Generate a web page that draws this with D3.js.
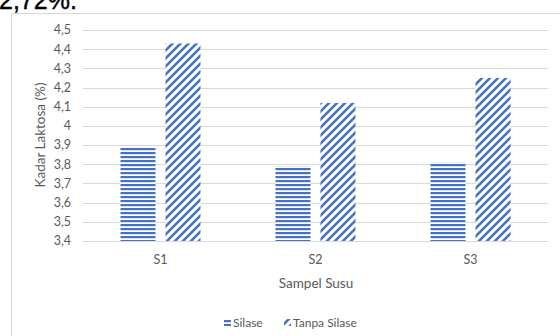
<!DOCTYPE html>
<html><head><meta charset="utf-8">
<script src="https://cdn.jsdelivr.net/npm/d3@7"></script>
<style>
html,body{margin:0;padding:0;background:#fff;overflow:hidden}
svg{display:block}
text{font-family:Lato,"Open Sans",sans-serif}
</style></head>
<body>
<svg id="c" width="560" height="336"></svg>
<script>
const categories = ["S1","S2","S3"];
const seriesNames = ["Silase","Tanpa Silase"];
const silase = [3.89, 3.79, 3.81];
const tanpaSilase = [4.43, 4.12, 4.25];
const yTicks = [3.4,3.5,3.6,3.7,3.8,3.9,4.0,4.1,4.2,4.3,4.4,4.5];
const headingText = "2,72%.";

const svg = d3.select("#c");
const blue = "#4472C4";
const defs = svg.append("defs");
const ph = defs.append("pattern").attr("id","pH").attr("patternUnits","userSpaceOnUse")
  .attr("width",4).attr("height",4);
ph.append("rect").attr("width",4).attr("height",4).attr("fill","#fff");
ph.append("rect").attr("y",0).attr("width",4).attr("height",2.2).attr("fill",blue);
const pd = defs.append("pattern").attr("id","pD").attr("patternUnits","userSpaceOnUse")
  .attr("width",8).attr("height",8);
pd.append("rect").attr("width",8).attr("height",8).attr("fill","#fff");
pd.append("path").attr("d","M-2,2L2,-2M0,8L8,0M6,10L10,6").attr("stroke",blue).attr("stroke-width",2.6);

// heading text (cropped at top, as in the reference)
svg.append("text").attr("x",-1).attr("y",9).attr("font-size",25)
  .attr("fill","#000").style("font-family","Liberation Sans, Arial, sans-serif")
  .style("font-weight","normal").style("stroke","#000").style("stroke-width",0.4).text(headingText);

// chart border
svg.append("rect").attr("x",11.5).attr("y",13.5).attr("width",560).attr("height",340)
  .attr("fill","#fff").attr("stroke","#d9d9d9");

const x0 = d3.scaleBand().domain(categories).range([83,548]);
const y = d3.scaleLinear().domain([3.4,4.5]).range([241,30]);

// gridlines
svg.append("g").selectAll("line").data(yTicks).join("line")
  .attr("x1",83).attr("x2",548).attr("y1",d=>Math.round(y(d))+0.5).attr("y2",d=>Math.round(y(d))+0.5)
  .attr("stroke","#d9d9d9").attr("stroke-width",1);

// y tick labels
const fmt = d => d3.format(".1f")(d).replace(".0","").replace(".",",");
svg.append("g").selectAll("text").data(yTicks).join("text")
  .attr("x",71).attr("y",d=>y(d)).attr("dy","0.35em").attr("text-anchor","end")
  .attr("font-size",12.5).attr("fill","#595959").text(fmt);

// bars
const bw = 35, gap = 10;
const seriesData = [silase, tanpaSilase];
const fills = ["url(#pH)","url(#pD)"];
seriesData.forEach((vals,si)=>{
  svg.append("g").selectAll("rect").data(categories).join("rect")
    .attr("x",(c)=>x0(c)+x0.bandwidth()/2 + (si===0 ? -bw-gap/2 : gap/2))
    .attr("width",bw)
    .attr("y",(c,i)=>y(vals[i]))
    .attr("height",(c,i)=>y(3.4)-y(vals[i]))
    .attr("fill",fills[si]);
});

// x labels
svg.append("g").selectAll("text").data(categories).join("text")
  .attr("x",c=>x0(c)+x0.bandwidth()/2).attr("y",260).attr("dy","0.35em")
  .attr("text-anchor","middle").attr("font-size",12.5).attr("fill","#595959").text(c=>c);

// axis titles
svg.append("text").attr("x",316).attr("y",283).attr("dy","0.35em").attr("text-anchor","middle")
  .attr("font-size",13.5).attr("fill","#595959").text("Sampel Susu");
svg.append("text").attr("transform","translate(40,135) rotate(-90)").attr("dy","0.35em")
  .attr("text-anchor","middle").attr("font-size",13.5).attr("fill","#595959").text("Kadar Laktosa (%)");

// legend
const lg = svg.append("g");
const lx = [224, 284];
seriesNames.forEach((n,i)=>{
  lg.append("rect").attr("x",lx[i]).attr("y",319).attr("width",7).attr("height",7).attr("fill",fills[i]);
  lg.append("text").attr("x",lx[i]+9).attr("y",323).attr("dy","0.35em").attr("font-size",12)
    .attr("fill","#595959").text(n);
});
</script>
</body></html>
